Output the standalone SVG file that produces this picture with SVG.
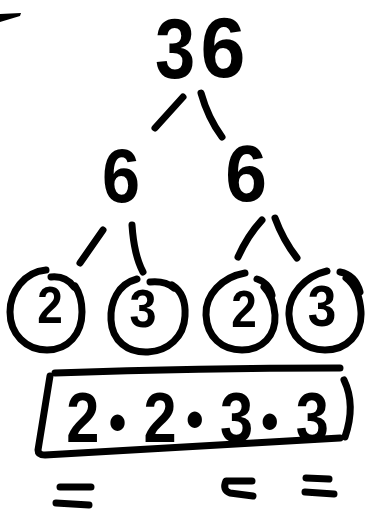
<svg xmlns="http://www.w3.org/2000/svg" width="365" height="510" viewBox="0 0 365 510">
<style>
.ink{fill:none;stroke:#000;stroke-width:7;stroke-linecap:round;stroke-linejoin:round}
.d{font-family:"Liberation Sans",Arial,sans-serif;font-weight:700;fill:#000;text-anchor:middle}
.dot{font-family:Lato,"Liberation Sans",sans-serif;font-weight:900;font-size:82px}
</style>
<rect width="365" height="510" fill="#fff"/>
<path d="M0,14 L21,13 L20,16 L0,22 Z" fill="#000"/>
<g id="n36"><text class="d" font-size="85" transform="translate(175,78) scale(0.85,1)">3</text><text class="d" font-size="85" transform="translate(223,77) scale(0.95,1)">6</text></g>
<g id="n6a"><text class="d" font-size="76" transform="translate(121,202) scale(0.9,1)">6</text></g>
<g id="n6b"><text class="d" font-size="79" transform="translate(246,201) scale(0.95,1)">6</text></g>
<g id="n2a"><path class="ink" d="M46,270 C24,272 10,292 10,312 C10,334 26,350 47,350 C68,350 82,334 82,312 C82,300 79,292 75,286"/><path class="ink" d="M51,277 C61,276 69,280 74,287"/><text class="d" font-size="51" transform="translate(50,323) scale(0.9,1)">2</text></g>
<g id="n3a"><path class="ink" d="M137,279 C118,284 110,302 111,320 C112,341 128,353 148,352 C168,351 184,337 185,316 C186,300 180,290 172,285"/><path class="ink" d="M150,282 C160,281 168,283 174,288"/><text class="d" font-size="54" transform="translate(143,327) scale(0.9,1)">3</text></g>
<g id="n2b"><path class="ink" d="M245,273 C222,277 205,295 206,315 C207,337 222,350 242,350 C262,350 276,336 275,315 C274,302 270,293 264,287"/><path class="ink" d="M257,279 C264,281 270,287 272,295"/><text class="d" font-size="51" transform="translate(244,327) scale(0.9,1)">2</text></g>
<g id="n3b"><path class="ink" d="M327,271 C305,276 288,295 289,315 C290,337 305,350 325,350 C347,350 362,334 361,312 C360,296 354,284 346,278"/><path class="ink" d="M340,272 C350,274 357,281 360,292"/><text class="d" font-size="57" transform="translate(322,326) scale(0.9,1)">3</text></g>
<g id="connectors">
<path class="ink" d="M183,97 L155,128"/>
<path class="ink" d="M201,93 Q208,118 222,137"/>
<path class="ink" d="M103,230 L80,263"/>
<path class="ink" d="M132,225 Q134,255 143,272"/>
<path class="ink" d="M262,220 Q248,235 238,257"/>
<path class="ink" d="M275,218 Q283,240 297,258"/>
</g>
<g id="product">
<path class="ink" d="M55,373 Q200,368 340,368"/>
<path class="ink" d="M50,376 L38,450 Q38,455 45,455 Q200,446 340,438"/>
<path class="ink" d="M344,380 Q356,405 345,437"/>
<text class="d" font-size="70" transform="translate(200,0) scale(0.85,1) translate(-200,0)"><tspan x="62" y="442">2</tspan><tspan class="dot" x="103" y="447">·</tspan><tspan x="153" y="442">2</tspan><tspan class="dot" x="194" y="444">·</tspan><tspan x="243" y="442">3</tspan><tspan class="dot" x="282" y="446">·</tspan><tspan x="332" y="442">3</tspan></text>
</g>
<g id="marks">
<path class="ink" d="M60,487 L91,487 M56,503 L89,505"/>
<path class="ink" d="M252,481 L226,481 Q222,490 230,493 L253,496"/>
<path class="ink" d="M306,478 L329,479 M305,492 L334,494"/>
</g>
</svg>
